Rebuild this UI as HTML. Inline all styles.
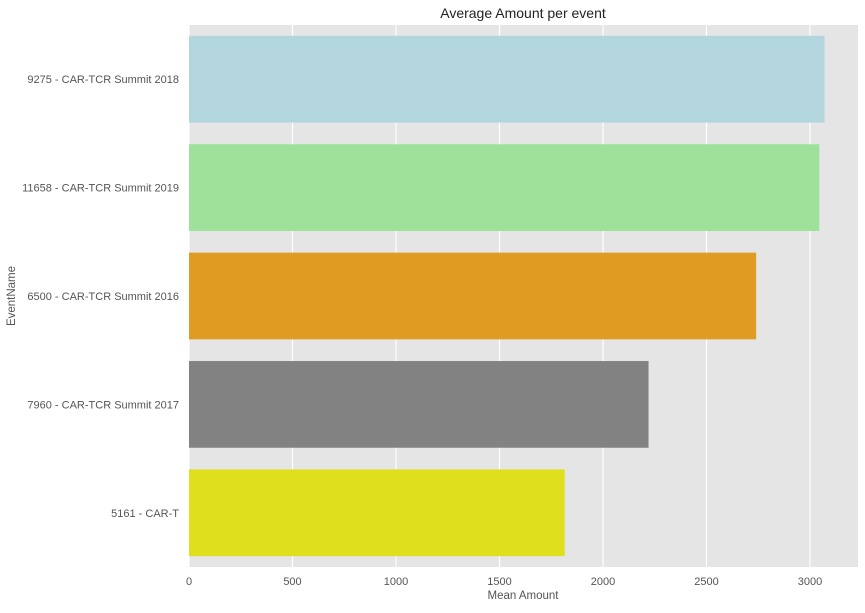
<!DOCTYPE html>
<html><head><meta charset="utf-8"><style>
body{margin:0;background:#fff;font-family:"Liberation Sans",sans-serif}
</style></head><body>
<svg id="c" width="865" height="608" xmlns="http://www.w3.org/2000/svg"></svg>
<script>
const categories=["9275 - CAR-TCR Summit 2018","11658 - CAR-TCR Summit 2019","6500 - CAR-TCR Summit 2016","7960 - CAR-TCR Summit 2017","5161 - CAR-T"];
const values=[3070,3045,2740,2220,1815];
const colors=["#b3d5de","#9de19b","#e09b22","#828282","#dfdf1d"];
const xTicks=[0,500,1000,1500,2000,2500,3000];
const L=189,R=858,T=25,B=567;
const xs=v=>L+v*(103.5/500);
const band=(B-T)/categories.length;
const svg=document.getElementById('c');
const NS='http://www.w3.org/2000/svg';
function mk(t,a,txt){const e=document.createElementNS(NS,t);for(const k in a)e.setAttribute(k,a[k]);if(txt!=null)e.textContent=txt;svg.appendChild(e);return e;}
let e=mk('rect',{x:L,y:T,width:R-L,height:B-T,fill:'#e5e5e5'});


xTicks.forEach(t=>{
 let g=mk('line',{x1:xs(t),x2:xs(t),y1:T,y2:B,stroke:'#fff','stroke-width':1.2});
 
 
 let l=mk('text',{x:xs(t),y:585,'text-anchor':'middle','font-size':11,fill:'#555'},t);
 
 
});
categories.forEach((c,i)=>{
 const y=T+i*band+band*0.1;
 let b=mk('rect',{x:L,y:y,width:xs(values[i])-L,height:band*0.8,fill:colors[i]});
 
 
 let l=mk('text',{x:179,y:T+i*band+band/2+4,'text-anchor':'end','font-size':11,fill:'#555'},c);
 
 
});
e=mk('text',{x:523,y:18,'text-anchor':'middle','font-size':14,fill:'#222'},'Average Amount per event');


e=mk('text',{x:523,y:599,'text-anchor':'middle','font-size':11.5,fill:'#555'},'Mean Amount');


e=mk('text',{x:15,y:296,'text-anchor':'middle','font-size':11.5,fill:'#555',transform:'rotate(-90 15 296)'},'EventName');


</script>
</body></html>
